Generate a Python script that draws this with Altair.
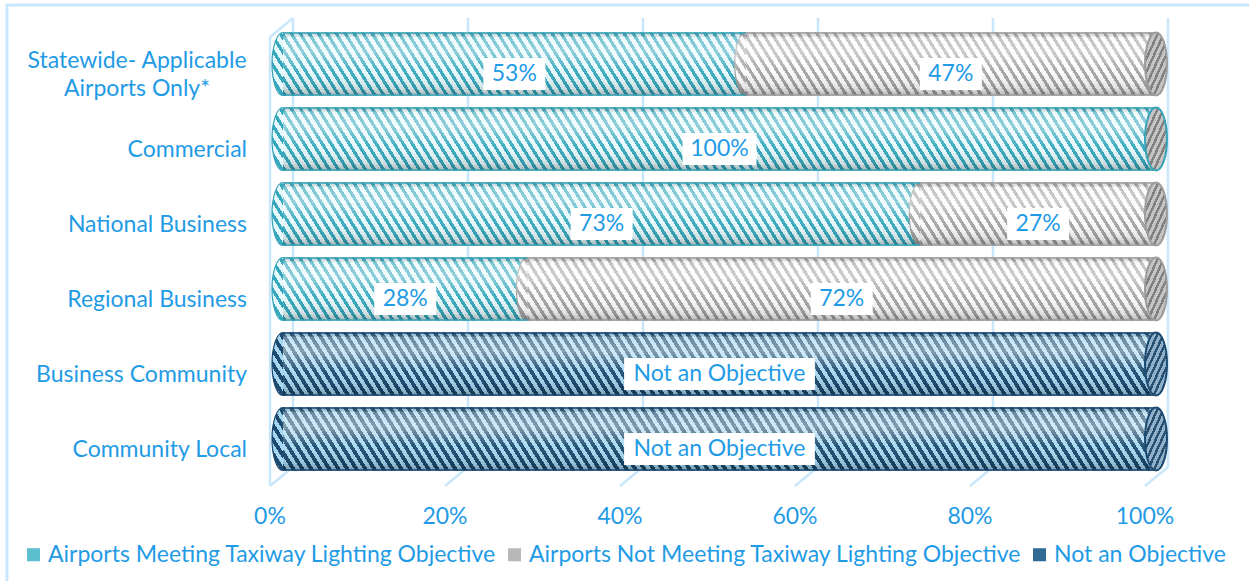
import altair as alt
import pandas as pd

# ---- data -------------------------------------------------------------
categories = ["Statewide- Applicable Airports Only*", "Commercial", "National Business",
              "Regional Business", "Business Community", "Community Local"]
category_labels = ["Statewide- Applicable\nAirports Only*", "Commercial", "National Business",
                   "Regional Business", "Business Community", "Community Local"]
meeting = [53, 100, 73, 28, 0, 0]
not_meeting = [47, 0, 27, 72, 0, 0]
not_objective = [0, 0, 0, 0, 100, 100]
series = ["Airports Meeting Taxiway Lighting Objective",
          "Airports Not Meeting Taxiway Lighting Objective",
          "Not an Objective"]
ticks = [0, 20, 40, 60, 80, 100]
tick_labels = ["0%", "20%", "40%", "60%", "80%", "100%"]

# ---- style ------------------------------------------------------------
FONT = "Lato"
FS = 23
TEXT = "#1f9be6"
GRID = "#c9e7fb"
stripe_fg = {series[0]: "#36a8bd", series[1]: "#a4a4a4", series[2]: "#1b4a6e"}
stripe_bg = {series[0]: "#e6f9fc", series[1]: "#fbfbfb", series[2]: "#a6d7f0"}
stripe_duty = {series[0]: 0.42, series[1]: 0.42, series[2]: 0.5}
edge = {series[0]: "#37a3b7", series[1]: "#9c9c9c", series[2]: "#1c4a70"}
legend_fill = ["#5cbfcf", "#b8b8b8", "#2f6b95"]
cap_fg = {series[0]: "#7f7f7f", series[1]: "#7f7f7f", series[2]: "#264f70"}
cap_bg = {series[0]: "#c4c4c4", series[1]: "#c4c4c4", series[2]: "#8fb0c8"}

PX0, PX1 = 283, 1156          # pixel span of 0..100% along the bars
SPAN = PX1 - PX0
BAR_H = 63
XS = alt.Scale(domain=[0, 1], range=[PX0, PX1])
YS = alt.Scale(domain=categories, range=[32.5, 470.5], paddingInner=0.16, paddingOuter=0)
ELLIPSE = "M0,-1A0.349,1,0,1,1,0,1A0.349,1,0,1,1,0,-1Z"


def stripes(w, h, fg, bg, period=9.0, duty=0.42, slope=1.6):
    """Diagonal stripe fill as a many-stop linear gradient in bounding-box units."""
    a, b = 1.0, -h / (slope * w)
    proj = [0.0, a, b, a + b]
    tmin, tmax = min(proj), max(proj)
    nn = a * a + b * b
    step = period * a / (w * (tmax - tmin))
    stops, k = [], 0
    while k * step < 1:
        s0 = k * step
        s1 = min(s0 + duty * step, 1.0)
        s2 = min(s0 + step, 1.0)
        for off, col in ((s0, fg), (s1, fg), (s1, bg), (s2, bg)):
            stops.append(alt.GradientStop(offset=round(off, 5), color=col))
        k += 1
    return alt.LinearGradient(gradient="linear", stops=stops,
                              x1=a * tmin / nn, y1=b * tmin / nn,
                              x2=a * tmax / nn, y2=b * tmax / nn)


shade = alt.LinearGradient(
    gradient="linear", x1=0, y1=0, x2=0, y2=1,
    stops=[alt.GradientStop(offset=0.0, color="rgba(0,0,0,0.10)"),
           alt.GradientStop(offset=0.08, color="rgba(255,255,255,0.35)"),
           alt.GradientStop(offset=0.30, color="rgba(255,255,255,0.45)"),
           alt.GradientStop(offset=0.62, color="rgba(255,255,255,0.05)"),
           alt.GradientStop(offset=0.88, color="rgba(0,0,0,0.10)"),
           alt.GradientStop(offset=1.0, color="rgba(0,0,0,0.28)")])

# ---- segment table ----------------------------------------------------
rows = []
for i, cat in enumerate(categories):
    vals = [meeting[i], not_meeting[i], not_objective[i]]
    nz = [j for j, v in enumerate(vals) if v > 0]
    start = 0
    for j in nz:
        v = vals[j]
        label = "Not an Objective" if series[j] == "Not an Objective" else f"{v}%"
        box = (26 + 12 * len(label)) if "%" in label else (18 + 10.8 * len(label))
        x0, x1 = start / 100, (start + v) / 100
        mid = (x0 + x1) / 2
        rows.append(dict(seg=len(rows), category=cat, series=series[j], x0=x0, x1=x1,
                         mid=mid, label=label, bx0=mid - box / 2 / SPAN, bx1=mid + box / 2 / SPAN,
                         last=(j == nz[-1])))
        start += v
seg = pd.DataFrame(rows)
ylab = pd.DataFrame({"category": categories, "text": category_labels})
tk = pd.DataFrame({"v": [t / 100 for t in ticks], "text": tick_labels})

Y = alt.Y("category:N", sort=categories, scale=YS, axis=None)


def X(f):
    return alt.X(f"{f}:Q", scale=XS, axis=None)


layers = []

# outer frame
layers.append(alt.Chart(alt.Data(values=[{}])).mark_rect(
    fill="transparent", stroke=GRID, strokeWidth=3).encode(
    x=alt.value(7), x2=alt.value(1275), y=alt.value(5), y2=alt.value(600)))

# 3-D walls: back grid lines, floor lines and left wall
grid = alt.Chart(tk).transform_calculate(
    ub=f"(10 + 875 * datum.v) / {SPAN}", uf=f"(875 * datum.v - 13) / {SPAN}")
layers.append(grid.mark_rule(color=GRID, strokeWidth=2.5).encode(
    x=X("ub"), y=alt.value(18), y2=alt.value(467)))
layers.append(grid.mark_rule(color=GRID, strokeWidth=2.5).encode(
    x=X("ub"), x2="uf:Q", y=alt.value(467), y2=alt.value(486)))
wall = grid.transform_filter("datum.v == 0")
layers.append(wall.mark_rule(color=GRID, strokeWidth=2.5).encode(
    x=X("uf"), y=alt.value(37), y2=alt.value(486)))
layers.append(wall.mark_rule(color=GRID, strokeWidth=2.5).encode(
    x=X("uf"), x2="ub:Q", y=alt.value(37), y2=alt.value(18)))

base = alt.Chart(seg)

# solid base bars (these carry the legend)
layers.append(base.mark_bar().encode(
    x=X("x0"), x2="x1:Q", y=Y,
    color=alt.Color("series:N", scale=alt.Scale(domain=series, range=legend_fill),
                    legend=alt.Legend(title=None, orient="none", legendX=22, legendY=543,
                                      direction="horizontal", symbolType="square",
                                      symbolSize=170, symbolStrokeWidth=0,
                                      labelFont=FONT, labelFontSize=FS, labelColor=TEXT,
                                      labelOffset=3, columnPadding=6, labelLimit=0,
                                      padding=0))))

# striped cylinder segments, each with a rounded left end
for r in rows:
    w = (r["x1"] - r["x0"]) * SPAN
    s = r["series"]
    one = base.transform_filter(f"datum.seg == {r['seg']}")
    layers.append(one.mark_point(
        shape=ELLIPSE, size=BAR_H * BAR_H, filled=True, opacity=1,
        fill=stripes(22, BAR_H, stripe_fg[s], stripe_bg[s], duty=stripe_duty[s]),
        stroke=edge[s], strokeWidth=1.2).encode(x=X("x0"), y=Y))
    layers.append(one.mark_bar(
        fill=stripes(w, BAR_H, stripe_fg[s], stripe_bg[s], duty=stripe_duty[s])).encode(
        x=X("x0"), x2="x1:Q", y=Y))

# cylinder shading
layers.append(base.mark_bar(fill=shade).encode(x=X("x0"), x2="x1:Q", y=Y))

# top and bottom outlines
edge_scale = alt.Scale(domain=series, range=[edge[s] for s in series])
for off in (-BAR_H / 2 + 0.5, BAR_H / 2 - 0.5):
    layers.append(base.mark_rule(strokeWidth=1.6, yOffset=off).encode(
        x=X("x0"), x2="x1:Q", y=Y,
        stroke=alt.Stroke("series:N", scale=edge_scale, legend=None)))

# end caps
for r in [r for r in rows if r["last"]]:
    one = base.transform_filter(f"datum.seg == {r['seg']}")
    layers.append(one.mark_point(
        shape=ELLIPSE, size=BAR_H * BAR_H, filled=True, opacity=1,
        fill=stripes(22, BAR_H, cap_fg[r["series"]], cap_bg[r["series"]], period=6, slope=-2.2),
        stroke=edge[r["series"]], strokeWidth=2).encode(x=X("x1"), y=Y))

# value labels in white boxes
layers.append(base.mark_bar(color="white", size=32, yOffset=10).encode(
    x=X("bx0"), x2="bx1:Q", y=Y))
layers.append(base.mark_text(font=FONT, fontSize=FS, color=TEXT, dy=10).encode(
    x=X("mid"), y=Y, text="label:N"))

# category labels
ychart = alt.Chart(ylab)
layers.append(ychart.transform_filter("indexof(datum.text, '\\n') < 0").mark_text(
    font=FONT, fontSize=FS, color=TEXT, align="right", dy=11).encode(
    x=alt.value(247), y=Y, text="text:N"))
layers.append(ychart.transform_filter("indexof(datum.text, '\\n') >= 0").mark_text(
    font=FONT, fontSize=FS, color=TEXT, align="center", dy=-3, lineBreak="\n",
    lineHeight=28).encode(x=alt.value(137), y=Y, text="text:N"))

# percentage axis labels along the front edge
layers.append(alt.Chart(tk).transform_calculate(
    uf=f"(875 * datum.v - 13) / {SPAN}").mark_text(
    font=FONT, fontSize=FS, color=TEXT).encode(
    x=X("uf"), y=alt.value(517), text="text:N"))

chart = alt.layer(*layers).properties(
    width=1249, height=581, autosize=alt.AutoSizeParams(type="none"),
    padding={"left": 0, "right": 0, "top": 0, "bottom": 0},
    background="white",
).configure_view(stroke=None)

chart.save("out.html", embed_options={"renderer": "svg", "actions": False})
